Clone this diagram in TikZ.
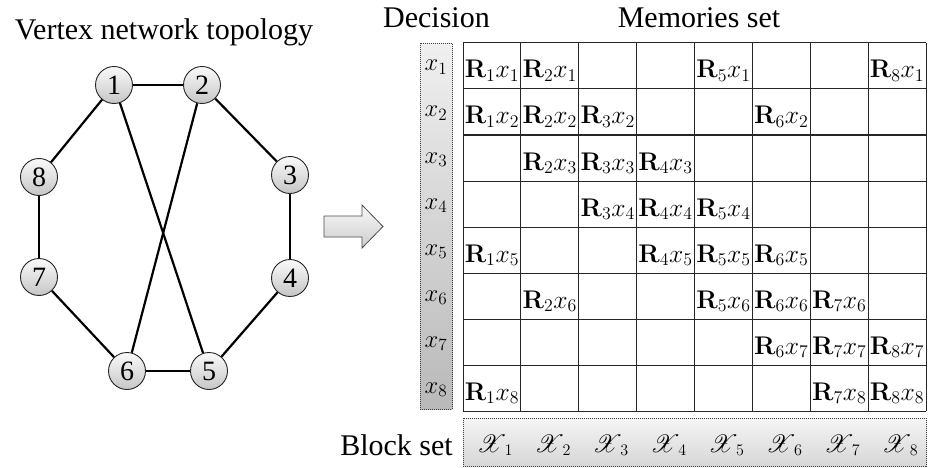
\RequirePackage{fix-cm}
\documentclass[tikz,border=0pt]{standalone}
\IfFileExists{mathrsfs.sty}{\usepackage{mathrsfs}}{\newcommand\mathscr{\mathcal}}
\usepackage[no-math]{fontspec}
\setmainfont{Liberation Serif}
\begin{document}
\begin{tikzpicture}[x=1pt,y=-1pt,
  vtx/.style={circle, draw=black!85, line width=0.9pt, top color=gray!4, bottom color=gray!45,
              minimum size=37pt, inner sep=0pt, font=\fontsize{28}{30}\selectfont},
  edge/.style={line width=2.2pt},
  lbl/.style={font=\fontsize{30}{34}\selectfont, anchor=base, inner sep=0pt},
  cell/.style={font=\fontsize{23}{26}\selectfont, anchor=base, inner sep=0pt},
  dotbox/.style={draw=black!75, dash pattern=on 1pt off 1pt, line width=0.8pt},
  gridline/.style={line width=1pt, draw=black!85}]
\useasboundingbox (0,0) rectangle (931,468);

% ---- titles
\node[lbl] (ttl) at (164,40) {Vertex network topology};
\node[lbl] (dec) at (436.5,28) {Decision};
\node[lbl] (mem) at (699,28) {Memories set};
\node[lbl] (blk) at (396.5,455) {Block set};

% ---- graph
\node[vtx] (v1) at (114,85) {1};
\node[vtx] (v2) at (202,85) {2};
\node[vtx] (v3) at (290,175) {3};
\node[vtx] (v4) at (290,278) {4};
\node[vtx] (v5) at (209,371) {5};
\node[vtx] (v6) at (127,371) {6};
\node[vtx] (v7) at (39,277) {7};
\node[vtx] (v8) at (39,177) {8};
\foreach \a/\b in {v1/v2,v2/v3,v3/v4,v4/v5,v5/v6,v6/v7,v7/v8,v8/v1,v1/v5,v2/v6}
  \draw[edge] (\a) -- (\b);

% ---- block arrow
\draw[draw=black!70, line width=0.8pt, top color=gray!4, bottom color=gray!40]
  (324,216) -- (362,216) -- (362,205) -- (383,226.5) -- (362,248) -- (362,237) -- (324,237) -- cycle;

% ---- decision column
\node[dotbox, top color=gray!12, bottom color=gray!55, minimum width=32pt, minimum height=366pt,
      inner sep=0pt, anchor=north west] (deccol) at (420,43) {};
\foreach \i in {1,...,8}
  \node[cell] (d\i) at (436,{43+46*(\i-1)+28}) {\scalebox{1.07}{$x_{\i}$}};

% ---- block set box
\node[dotbox, top color=gray!8, bottom color=gray!32, minimum width=463pt, minimum height=48pt,
      inner sep=0pt, anchor=north west] (blkbox) at (463,418) {};
\foreach \j in {1,...,8}
  \node[cell] (b\j) at ({466+57.875*(\j-0.5)},452) {$\mathscr{X}_{\;\j}$};

% ---- grid
\foreach \j in {0,...,8}
  \draw[gridline] ({463+57.875*\j},43) -- ({463+57.875*\j},411);
\foreach \i in {0,...,8}
  \draw[gridline] (463,{43+46*\i}) -- (926,{43+46*\i});

% ---- cell labels
\foreach \i/\cols in {1/{1,2,5,8},2/{1,2,3,6},3/{2,3,4},4/{3,4,5},5/{1,4,5,6},6/{2,5,6,7},7/{6,7,8},8/{1,7,8}}{
  \foreach \j in \cols
    \node[cell] (c\i\j) at ({463+57.875*(\j-0.5)},{43+46*(\i-1)+35}) {\scalebox{1.11}{$\mathbf{R}_{\j}x_{\i}$}};
}
\end{tikzpicture}
\end{document}
